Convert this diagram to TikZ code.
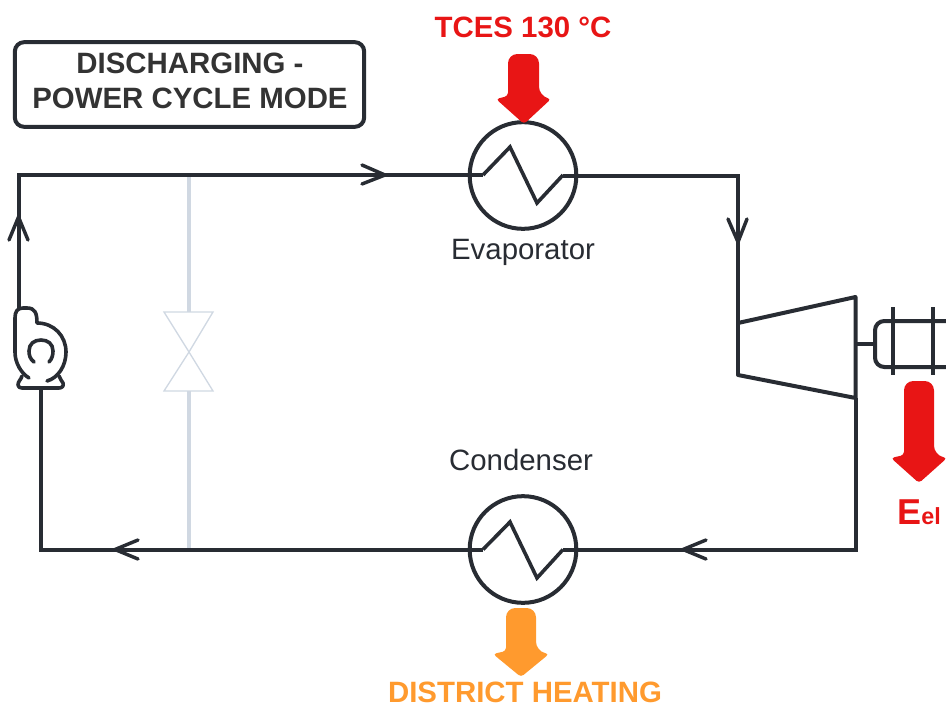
\documentclass[tikz,border=0pt]{standalone}
\usepackage{fontspec}
\setmainfont{Liberation Sans}
\definecolor{ink}{HTML}{282C33}
\definecolor{titleink}{HTML}{333333}
\definecolor{pale}{HTML}{D0D8E2}
\definecolor{redc}{HTML}{E81515}
\definecolor{orangec}{HTML}{FF9A2E}
\tikzset{
  pipe/.style={draw=ink,line width=3pt},
  thinpipe/.style={draw=ink,line width=2.7pt},
  flowtip/.style={draw=ink,line width=2.6pt,line cap=round,line join=round},
  hx/.style={circle,draw=ink,line width=3pt,minimum size=80pt,inner sep=0pt},
  lbl/.style={text=ink,anchor=base,font=\fontsize{22.05}{26}\selectfont,inner sep=0pt},
  blbl/.style={anchor=base,font=\fontsize{22.05}{26}\selectfont\bfseries,inner sep=0pt},
}
\begin{document}
\begin{tikzpicture}[x=0.75pt,y=-0.75pt]
\useasboundingbox (0,0) rectangle (946,707);
% pale bypass and valve
\node[inner sep=0pt,minimum size=0pt] (vtop) at (189,312) {};
\node[inner sep=0pt,minimum size=0pt] (vbot) at (189,391) {};
\coordinate (bypT) at (189,175);
\coordinate (bypB) at (189,549.5);
\draw[draw=pale,line width=3pt] (bypT) -- (vtop);
\draw[draw=pale,line width=3pt] (vbot) -- (bypB);
\draw[draw=pale,line width=1pt,line join=miter] (164,312) -- (213,312) -- (189,352) -- cycle;
\draw[draw=pale,line width=1pt,line join=miter] (164,391) -- (213,391) -- (189,352) -- cycle;
% heat exchangers
\node[hx] (evap) at (523,175.5) {};
\node[hx] (cond) at (523,549.5) {};
\draw[thinpipe,line join=miter] (483,175) -- (510,147) -- (537,203) -- (563,175);
\draw[thinpipe,line join=miter] (483,549.5) -- (510,522) -- (537,578) -- (563,549.5);
% pipes
\coordinate (pumpT) at (18.5,308);
\coordinate (pumpB) at (41,388);
\coordinate (c1) at (18.5,175);
\coordinate (c2) at (738,175.5);
\coordinate (c3) at (855.5,549.5);
\coordinate (c4) at (41,549.5);
\coordinate (t1) at (738,375);
\coordinate (t2) at (855.5,398);
\draw[pipe,line join=miter] (pumpT) -- (c1) -- (483,175);
\draw[pipe,line join=miter] (563,175.5) -- (c2) -- (t1);
\draw[pipe,line join=miter] (t2) -- (c3) -- (563,549.5);
\draw[pipe,line join=miter] (483,549.5) -- (c4) -- (pumpB);
% flow arrows
\draw[flowtip] (362,165) -- (385,175) -- (362,184);
\draw[flowtip] (728,219) -- (738,242) -- (747,219);
\draw[flowtip] (9,240) -- (18.5,217) -- (28,240);
\draw[flowtip] (706,540) -- (683,549.5) -- (706,559);
\draw[flowtip] (138,540) -- (115,549.5) -- (138,559);
% turbine
\draw[pipe,line join=round,line cap=round] (738,323) -- (855.5,297) -- (855.5,398) -- (738,375);
\coordinate (shaft) at (855.5,344);
\coordinate (gen) at (875,344);
\draw[pipe] (shaft) -- (gen);
% generator
\draw[pipe,rounded corners=7pt] (947,321) -- (875,321) -- (875,367) -- (947,367);
\draw[pipe] (893,307) -- (893,375);
\draw[pipe] (933,307) -- (933,375);
% pump
\draw[thinpipe,line cap=round,line join=round]
  (47,381) .. controls (58,378) and (66,366) .. (66,352)
  .. controls (66,336) and (54,323) .. (37,323)
  .. controls (37,313) and (35,308) .. (27,308)
  -- (23,308) .. controls (17,308) and (15,312) .. (15,318)
  -- (15,352) .. controls (15,363) and (21,373) .. (29,378);
\draw[thinpipe,line cap=round,line join=round]
  (22,376) .. controls (21,380) and (18,381) .. (18,385)
  .. controls (18,387) and (20,388) .. (22,388)
  -- (59,388) .. controls (62,388) and (64,386) .. (63,383)
  .. controls (62,381) and (60,379) .. (59,376);
\draw[thinpipe,line cap=round] (34,362) .. controls (30,359) and (29,355) .. (29,351)
  .. controls (29,344) and (34,340) .. (41,340)
  .. controls (48,340) and (53,344) .. (53,351)
  .. controls (53,355) and (52,359) .. (49,362);
% block arrows
\fill[redc,rounded corners=7pt] (508,96) -- (508,54) -- (539,54) -- (539,96) [rounded corners=2.5pt] -- (551,99) -- (524,124) -- (496,99) -- cycle;
\fill[redc,rounded corners=7pt] (904,455) -- (904,381) -- (934,381) -- (934,455) [rounded corners=2.5pt] -- (947,458) -- (919,483) -- (891,458) -- cycle;
\fill[orangec,rounded corners=7pt] (506,651) -- (506,608) -- (536,608) -- (536,651) [rounded corners=2.5pt] -- (549,654) -- (521,677) -- (493,654) -- cycle;
% title box
\node[draw=ink,line width=3pt,rounded corners=7pt,minimum width=262pt,minimum height=63.5pt,inner sep=0pt] (title) at (189.5,84.5) {};
\node[blbl,text=titleink] (t1l) at (190,73) {DISCHARGING -};
\node[blbl,text=titleink] (t2l) at (190,108) {POWER CYCLE MODE};
% labels
\node[blbl,text=redc] (tces) at (523,37) {TCES 130 °C};
\node[lbl] (evl) at (523,259) {Evaporator};
\node[lbl] (col) at (521,470) {Condenser};
\node[blbl,text=orangec] (dh) at (525,702.5) {DISTRICT HEATING};
\node[anchor=base west,inner sep=0pt,text=redc,font=\bfseries] (eel) at (897,524) {\fontsize{27}{30}\selectfont E\fontsize{17.5}{20}\selectfont el};
\end{tikzpicture}
\end{document}
